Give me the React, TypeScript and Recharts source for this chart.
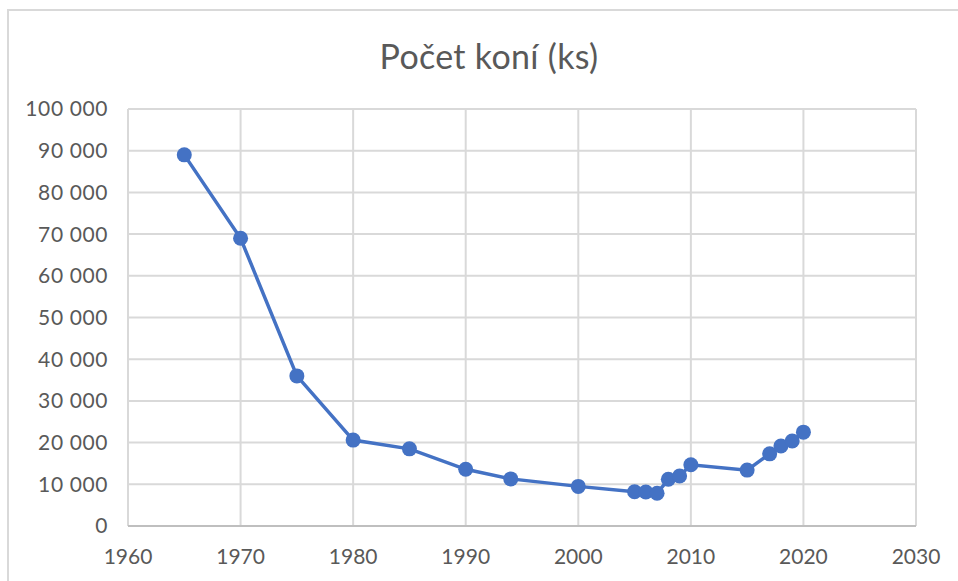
import React from 'react';
import { LineChart, Line, XAxis, YAxis, CartesianGrid } from 'recharts';

const years = [1965, 1970, 1975, 1980, 1985, 1990, 1994, 2000, 2005, 2006, 2007, 2008, 2009, 2010, 2015, 2017, 2018, 2019, 2020];
const horses = [89000, 69000, 36000, 20600, 18500, 13600, 11300, 9500, 8200, 8150, 7850, 11200, 12000, 14700, 13400, 17300, 19200, 20400, 22500];
const xTicks = [1960, 1970, 1980, 1990, 2000, 2010, 2020, 2030];
const yTicks = [0, 10000, 20000, 30000, 40000, 50000, 60000, 70000, 80000, 90000, 100000];
const title = 'Počet koní (ks)';

const data = years.map((y, i) => ({ year: y, value: horses[i] }));

const fmt = (v: number) => String(v).replace(/\B(?=(\d{3})+(?!\d))/g, ' ');

const FONT = 'Lato, "Open Sans", sans-serif';
const TXT = '#595959';

export default function App() {
  return (
    <div style={{ position: 'absolute', left: 0, top: 0, width: 958, height: 581, background: '#fff', fontFamily: FONT }}>
      <div style={{ position: 'absolute', left: 7, top: 9, width: 951, height: 572, borderLeft: '2.5px solid #d9d9d9', borderTop: '2.5px solid #d9d9d9', boxSizing: 'border-box' }} />
      <div style={{ position: 'absolute', left: 0, width: 978, top: 36, textAlign: 'center', fontSize: 34, color: TXT, lineHeight: '40px', letterSpacing: 0.3 }}>{title}</div>
      <div style={{ position: 'absolute', left: 0, top: 0 }}>
        <LineChart width={958} height={581} data={data} margin={{ top: 109, right: 42, bottom: 15, left: 0 }}>
          <CartesianGrid stroke="#d9d9d9" strokeWidth={2} />
          <XAxis
            dataKey="year"
            type="number"
            domain={[1960, 2030]}
            ticks={xTicks}
            height={40}
            axisLine={{ stroke: '#bfbfbf', strokeWidth: 2 }}
            tickLine={false}
            tickSize={0}
            tickMargin={23}
            tick={{ fill: TXT, fontSize: 21, fontFamily: FONT }}
            interval={0}
          />
          <YAxis
            type="number"
            domain={[0, 100000]}
            ticks={yTicks}
            width={128}
            axisLine={false}
            tickLine={false}
            tickSize={0}
            tickMargin={20}
            tickFormatter={fmt}
            tick={{ fill: TXT, fontSize: 21, fontFamily: FONT, letterSpacing: 0.6 }}
            interval={0}
          />
          <Line
            dataKey="value"
            stroke="#4472C4"
            strokeWidth={3.5}
            dot={{ r: 7.5, fill: '#4472C4', stroke: '#4472C4', strokeWidth: 0 }}
            activeDot={false}
            isAnimationActive={false}
          />
        </LineChart>
      </div>
    </div>
  );
}
